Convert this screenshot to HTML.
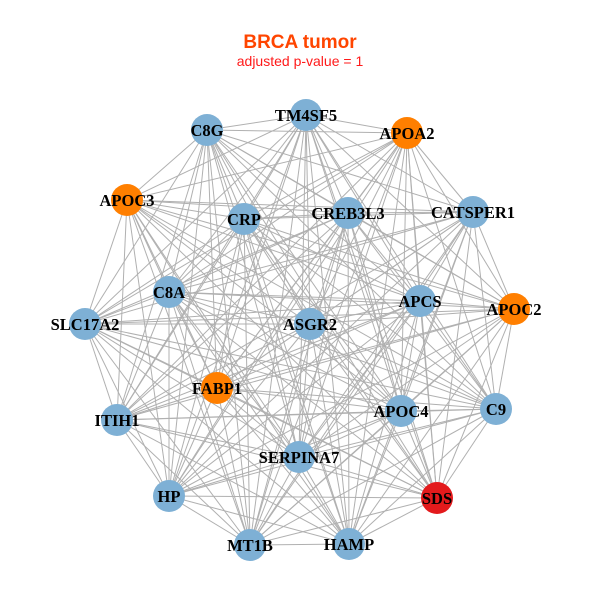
<!DOCTYPE html>
<html><head><meta charset="utf-8"><style>
html,body{margin:0;padding:0;background:#fff;width:600px;height:600px;overflow:hidden}
</style></head><body>
<svg id="s" width="600" height="600" xmlns="http://www.w3.org/2000/svg">
<rect width="600" height="600" fill="#fff"/>
<text x="300" y="48" text-anchor="middle" font-family="Liberation Sans, sans-serif" font-weight="bold" font-size="19" fill="#FF4500">BRCA tumor</text>
<text x="300" y="66" text-anchor="middle" font-family="Liberation Sans, sans-serif" font-size="14" fill="#FF1A1A">adjusted p-value = 1</text>
<g id="edges" stroke="#b0b0b0" stroke-width="1"></g>
<g id="nodes"></g>
<g font-family="Liberation Serif, serif" font-weight="bold" font-size="16.5" fill="#000" text-anchor="middle">
<text x="306" y="121">TM4SF5</text>
<text x="207" y="136">C8G</text>
<text x="407" y="139">APOA2</text>
<text x="127" y="206">APOC3</text>
<text x="244" y="225">CRP</text>
<text x="348" y="219">CREB3L3</text>
<text x="473" y="218">CATSPER1</text>
<text x="169" y="298">C8A</text>
<text x="85" y="330">SLC17A2</text>
<text x="420" y="307">APCS</text>
<text x="514" y="315">APOC2</text>
<text x="310" y="330">ASGR2</text>
<text x="217" y="394">FABP1</text>
<text x="117" y="426">ITIH1</text>
<text x="401" y="417">APOC4</text>
<text x="496" y="415">C9</text>
<text x="299" y="463">SERPINA7</text>
<text x="169" y="502">HP</text>
<text x="437" y="504">SDS</text>
<text x="250" y="551">MT1B</text>
<text x="349" y="550">HAMP</text>
</g>
</svg>
<script>
var N=[[306,115,0],[207,130,0],[407,133,1],[127,200,1],[244,219,0],[348,213,0],[473,212,0],[169,292,0],[85,324,0],[420,301,0],[514,309,1],[310,324,0],[217,388,1],[117,420,0],[401,411,0],[496,409,0],[299,457,0],[169,496,0],[437,498,2],[250,545,0],[349,544,0]];
var C=["#7EB0D5","#FF7F00","#E31A1C"];
var ns="http://www.w3.org/2000/svg",e=document.getElementById("edges"),g=document.getElementById("nodes");
for(var i=0;i<N.length;i++)for(var j=i+1;j<N.length;j++){var l=document.createElementNS(ns,"line");l.setAttribute("x1",N[i][0]);l.setAttribute("y1",N[i][1]);l.setAttribute("x2",N[j][0]);l.setAttribute("y2",N[j][1]);e.appendChild(l);}
for(var i=0;i<N.length;i++){var c=document.createElementNS(ns,"circle");c.setAttribute("cx",N[i][0]);c.setAttribute("cy",N[i][1]);c.setAttribute("r",16);c.setAttribute("fill",C[N[i][2]]);g.appendChild(c);}
</script>
</body></html>
